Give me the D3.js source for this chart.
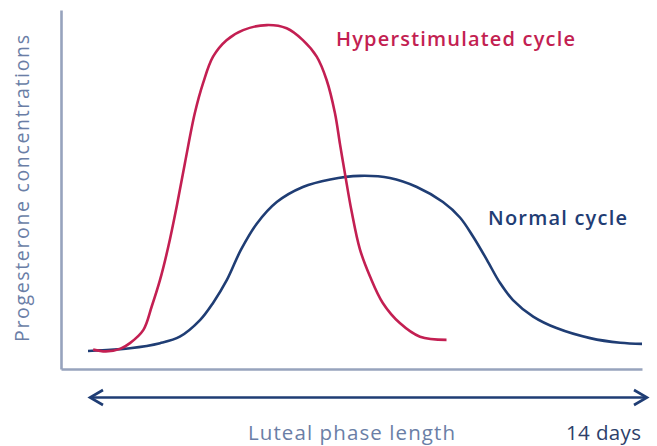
<!DOCTYPE html>
<html>
<head>
<meta charset="utf-8">
<script src="https://cdn.jsdelivr.net/npm/d3@7"></script>
<style>
  html, body { margin: 0; padding: 0; background: #fff; }
  svg { display: block; }
</style>
</head>
<body>
<svg id="chart" width="657" height="446"></svg>
<script>
// Data (day of luteal phase, relative progesterone concentration 0-100)
const hyperDays = [0.13, 0.45, 0.81, 1.06, 1.40, 1.61, 1.82, 2.03, 2.24, 2.45, 2.70, 2.91, 3.16, 3.50, 3.92, 4.52, 5.02, 5.43, 5.78, 6.03, 6.24, 6.37, 6.50, 6.66, 6.87, 7.13, 7.45, 7.88, 8.39, 9.06];
const hyperValues = [5.4, 4.9, 5.6, 7.2, 10.9, 17.4, 24.8, 34.1, 45.2, 57.4, 71.3, 79.7, 87.0, 91.6, 94.4, 95.8, 94.9, 91.6, 87.0, 80.5, 71.3, 62.5, 54.0, 44.0, 33.4, 25.7, 18.4, 12.8, 9.0, 8.1];
const normalDays = [0.0, 0.30, 1.06, 1.82, 2.32, 2.83, 3.16, 3.51, 3.86, 4.26, 4.77, 5.43, 6.12, 6.87, 7.63, 8.31, 8.97, 9.40, 9.73, 10.08, 10.41, 10.74, 11.25, 11.84, 12.69, 13.45, 14.0];
const normalValues = [5.0, 5.2, 5.8, 7.2, 9.0, 13.6, 18.4, 24.8, 33.1, 40.4, 46.5, 50.7, 52.8, 53.8, 53.2, 50.7, 46.5, 42.2, 36.9, 30.4, 24.0, 19.2, 14.6, 11.4, 8.6, 7.3, 7.0];
const seriesNames = ["Hyperstimulated cycle", "Normal cycle"];
const xAxisLabel = "Luteal phase length";
const xEndLabel = "14 days";
const yAxisLabel = "Progesterone concentrations";

const svg = d3.select("#chart");
const pink = "#c31f52", navy = "#1f3d74", axisCol = "#97a3bd", labelCol = "#6a7ea6";

const x = d3.scaleLinear().domain([0, 14]).range([88, 642]);
const y = d3.scaleLinear().domain([0, 100]).range([369, 10]);

// Frame (axes without ticks)
const frameX = d3.scaleLinear().domain([0, 1]).range([61, 642]);
svg.append("g").attr("transform", `translate(${frameX(0)},0)`)
  .call(d3.axisLeft(y).tickValues([]).tickSizeOuter(0))
  .call(g => g.select(".domain").attr("stroke", axisCol).attr("stroke-width", 2.6));
svg.append("g").attr("transform", `translate(0,${y(0)})`)
  .call(d3.axisBottom(frameX).tickValues([]).tickSizeOuter(0))
  .call(g => g.select(".domain").attr("stroke", axisCol).attr("stroke-width", 2.6));

const line = d3.line().x(d => x(d[0])).y(d => y(d[1])).curve(d3.curveCatmullRom.alpha(0.5));

svg.append("path").datum(normalDays.map((d, i) => [d, normalValues[i]]))
  .attr("d", line).attr("fill", "none").attr("stroke", navy).attr("stroke-width", 2.6);
svg.append("path").datum(hyperDays.map((d, i) => [d, hyperValues[i]]))
  .attr("d", line).attr("fill", "none").attr("stroke", pink).attr("stroke-width", 2.6);

// Double-headed arrow
const ay = 397.5, ax0 = x(0) + 2, ax1 = 647;
svg.append("line").attr("x1", ax0).attr("x2", ax1).attr("y1", ay).attr("y2", ay)
  .attr("stroke", navy).attr("stroke-width", 2.6);
svg.append("path").attr("d", `M${ax0 + 13},${ay - 7.5} L${ax0},${ay} L${ax0 + 13},${ay + 7.5}`)
  .attr("fill", "none").attr("stroke", navy).attr("stroke-width", 2.6);
svg.append("path").attr("d", `M${ax1 - 13},${ay - 7.5} L${ax1},${ay} L${ax1 - 13},${ay + 7.5}`)
  .attr("fill", "none").attr("stroke", navy).attr("stroke-width", 2.6);

const font = "'Open Sans', 'DejaVu Sans', sans-serif";

svg.append("text").attr("x", 336).attr("y", 46).text(seriesNames[0])
  .attr("textLength", 239).attr("lengthAdjust", "spacing")
  .attr("font-family", font).attr("font-weight", 600).attr("font-size", 20).attr("fill", pink);
svg.append("text").attr("x", 488).attr("y", 224.5).text(seriesNames[1])
  .attr("textLength", 139).attr("lengthAdjust", "spacing")
  .attr("font-family", font).attr("font-weight", 600).attr("font-size", 20).attr("fill", navy);

svg.append("text").attr("x", 248).attr("y", 439.5).text(xAxisLabel)
  .attr("textLength", 207).attr("lengthAdjust", "spacing")
  .attr("font-family", font).attr("font-size", 20.5).attr("fill", labelCol);
svg.append("text").attr("x", 566).attr("y", 439.5).text(xEndLabel)
  .attr("textLength", 75).attr("lengthAdjust", "spacing")
  .attr("font-family", font).attr("font-size", 20.5).attr("fill", "#2d4069");

svg.append("text").attr("transform", "translate(29,188.5) rotate(-90)")
  .attr("text-anchor", "middle").text(yAxisLabel)
  .attr("textLength", 307).attr("lengthAdjust", "spacing")
  .attr("font-family", font).attr("font-size", 19.5).attr("fill", labelCol);
</script>
</body>
</html>
